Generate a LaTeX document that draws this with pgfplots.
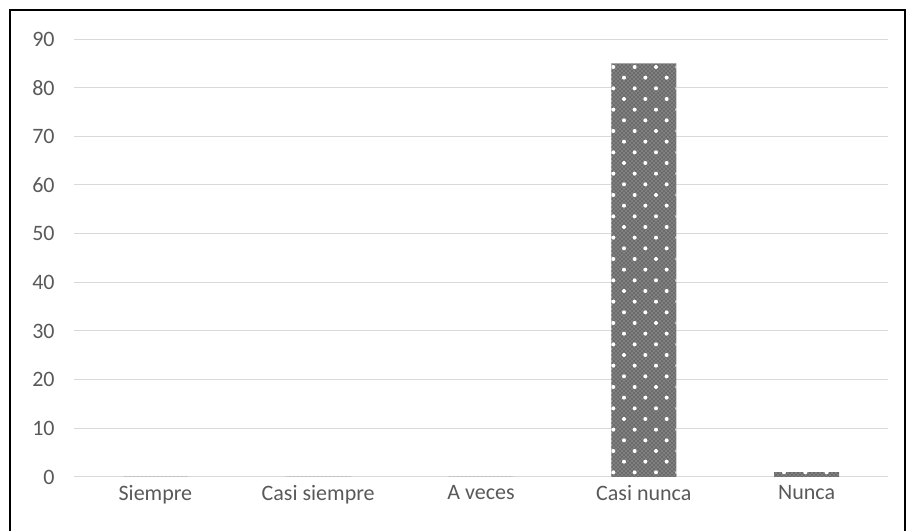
\documentclass[border=0pt]{standalone}
\usepackage{pgfplots}
\pgfplotsset{compat=1.18}
\usepackage{fontspec}
\setmainfont{Carlito}
\usetikzlibrary{patterns}

\definecolor{gridgray}{HTML}{D9D9D9}
\definecolor{labelgray}{HTML}{595959}

% sparse white dots laid over the bar
\pgfdeclarepatternformonly{wdots}{\pgfpoint{-1pt}{-1pt}}{\pgfpoint{17pt}{17pt}}{\pgfpoint{16pt}{16pt}}{%
  \pgfpathcircle{\pgfpoint{4pt}{4pt}}{1.5pt}%
  \pgfpathcircle{\pgfpoint{12pt}{12pt}}{1.5pt}%
  \pgfusepath{fill}}

\begin{document}
\begin{tikzpicture}
\useasboundingbox (0,0) rectangle (681pt,398.25pt);
\draw[line width=1.5pt] (7.5pt,-5pt) rectangle (678.6pt,390.75pt);

\begin{axis}[
    at={(55.5pt,40.5pt)}, anchor=south west,
    scale only axis,
    width=610.5pt, height=328.5pt,
    ymin=0, ymax=90,
    ytick={0,10,...,90},
    xmin=-0.5, xmax=4.5,
    xtick={0,1,2,3,4},
    xticklabels={Siempre, Casi siempre, A veces, Casi nunca, Nunca},
    axis line style={draw=none},
    major tick length=0pt,
    ymajorgrids,
    grid style={gridgray, line width=0.75pt},
    /pgf/number format/assume math mode=true,
    tick label style={font=\fontsize{16.5}{20}\selectfont, text=labelgray},
    yticklabel style={xshift=-11pt},
    xticklabel style={yshift=-2.5pt},
    ybar,
    bar width=48.75pt,
]

\addplot[draw=none, fill=black!50,
    postaction={pattern=crosshatch dots, pattern color=black!85},
    postaction={pattern=wdots, pattern color=white}] coordinates {
    (0, 0)
    (1, 0)
    (2, 0)
    (3, 85)
    (4, 1)
};

\end{axis}
\end{tikzpicture}
\end{document}
